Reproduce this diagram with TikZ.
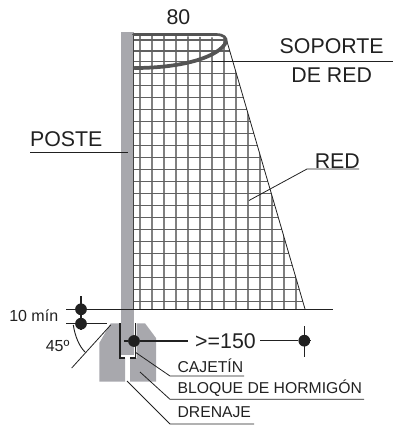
\documentclass[tikz,border=0pt]{standalone}
\usepackage{fontspec}
\setmainfont{Liberation Sans}
\definecolor{postgray}{rgb}{0.66,0.66,0.68}
\definecolor{netv}{gray}{0.5}
\definecolor{neth}{gray}{0.38}
\definecolor{ink}{gray}{0.13}
\definecolor{support}{gray}{0.33}
\tikzset{
  biglbl/.style={inner sep=0pt,font=\fontsize{16}{18}\selectfont,text=ink,anchor=base},
  lbl/.style={inner sep=0pt,font=\fontsize{12}{14}\selectfont,text=ink,anchor=base},
  smalllbl/.style={inner sep=0pt,font=\fontsize{11.8}{13}\selectfont,text=ink,anchor=base west},
  leader/.style={draw=ink,line width=0.6pt},
  dot/.style={circle,fill=ink,minimum size=8.8pt,inner sep=0pt},
  tick/.style={draw=ink,line width=0.8pt},
}
\begin{document}
\begin{tikzpicture}[x=0.75pt,y=-0.75pt]
\useasboundingbox (0,0) rectangle (393,426);
% net
\begin{scope}
\clip (133,34) -- (226,38) -- (305,309) -- (133,309) -- cycle;
\foreach \x in {140,152,164,176,188,200,212,224,236,248,260,272,284,296}
  \draw[netv,line width=1pt] (\x,34) -- (\x,309);
\foreach \y in {40,51,61.3,73.3,85.3,97.3,109.3,121.3,133.3,145.3,157.3,169.3,181.3,193.3,205.3,217.3,229.3,241.3,253.3,265.3,277.3,289.3,301.3}
  \draw[neth,line width=0.85pt] (133,\y) -- (310,\y);
\end{scope}
\coordinate (nettop) at (226,38);
\coordinate (netbot) at (305,309);
\draw[ink,line width=0.6pt] (nettop) -- (netbot);
% block
\fill[postgray] (99.3,343) -- (110.7,323.3) -- (119.5,323.3) -- (119.5,358) -- (125,358) -- (125,381.6) -- (99.3,381.6) -- cycle;
\fill[postgray] (130,381.6) -- (130,358) -- (136.5,358) -- (136.5,323.3) -- (145,323.3) -- (156,338) -- (156,381.6) -- cycle;
% post
\fill[postgray] (121,32) rectangle (133.5,354.7);
\draw[ink!85,line width=0.6pt] (133.5,34) -- (133.5,309);
% socket
\draw[ink,line width=0.9pt] (120,323.3) -- (120,358) -- (125,358);
\draw[ink,line width=0.9pt] (135.7,323.3) -- (135.7,358) -- (130,358);
% support
\draw[support,line width=2pt,line cap=round] (133.5,34.5) -- (216,34.5) .. controls (224,34.5) and (227,38) .. (226,42);
\draw[support,line width=2.8pt,line cap=round] (226,42) .. controls (220,56) and (185,68) .. (134.5,68);
% base line
\draw[ink,line width=1pt] (66,309.3) -- (333,309.3);
% dimension
\node[dot] (dota) at (81,309.3) {};
\node[dot] (dotb) at (81,323.7) {};
\draw[tick] (81,296) -- (81,330);
\draw[tick] (66,323.7) -- (107,323.7);
\node[lbl,anchor=base west] (ten) at (9,321.7) {10 mín};
\node[lbl] (ang) at (57.6,351.7) {45º};
\draw[leader] (110.7,325) -- (71.7,368);
\draw[ink,line width=0.7pt] (73.3,325) .. controls (75,336) and (79,346) .. (85,352);
% >=150
\node[dot] (dotc) at (134,341) {};
\node[dot] (dotd) at (304.3,340.7) {};
\node[biglbl] (ge) at (225.5,348) {>=150};
\draw[ink,line width=0.8pt] (124.3,341) -- (dotc) -- (188.3,341);
\draw[ink,line width=0.8pt] (260,340.7) -- (dotd) -- (310,340.7);
\draw[tick] (304.3,326) -- (304.3,356.7);
% labels
\node[biglbl] (ochenta) at (178.5,24) {80};
\node[biglbl] (sop) at (331.7,53) {SOPORTE};
\node[biglbl] (der) at (331.7,82.7) {DE RED};
\node[biglbl] (poste) at (66.2,146.7) {POSTE};
\node[biglbl] (red) at (337.3,168) {RED};
\coordinate (s0) at (212,61);
\coordinate (s1) at (393,61);
\draw[leader] (s0) -- (s1);
\draw[leader,line width=0.8pt] (30,152.5) -- (128,152.5);
\draw[leader] (359,169) -- (307,169) -- (249,200.5);
\node[smalllbl] (caj) at (177.3,372.7) {CAJETÍN};
\node[smalllbl] (blo) at (177.3,393.3) {BLOQUE DE HORMIGÓN};
\node[smalllbl] (dre) at (177.3,417) {DRENAJE};
\draw[leader] (135,352) -- (170,376) -- (244,376);
\draw[leader] (140,372) -- (170,399.3) -- (364,399.3);
\draw[leader] (127,381) -- (170,424) -- (254,424);
\end{tikzpicture}
\end{document}
